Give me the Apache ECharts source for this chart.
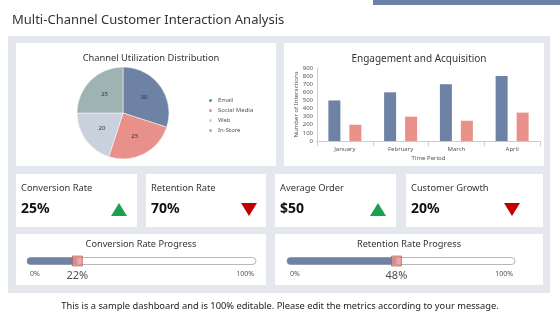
<!DOCTYPE html>
<html>
<head>
<meta charset="utf-8">
<script src="https://cdn.jsdelivr.net/npm/echarts@6/dist/echarts.min.js"></script>
<style>
  html, body { margin: 0; padding: 0; background: #fff; }
  #main { width: 560px; height: 315px; }
</style>
</head>
<body>
<div id="main"></div>
<script>
const channels = ['Email', 'Social Media', 'Web', 'In-Store'];
const channelShare = [30, 25, 20, 25];
const months = ['January', 'February', 'March', 'April'];
const interactions = [500, 600, 700, 800];
const acquisitions = [200, 300, 250, 350];
const kpiLabels = ['Conversion Rate', 'Retention Rate', 'Average Order', 'Customer Growth'];
const kpiValues = ['25%', '70%', '$50', '20%'];
const kpiUp = [true, false, true, false];
const progressLabels = ['Conversion Rate Progress', 'Retention Rate Progress'];
const progressValues = [22, 48];

const FONT = 'Noto Sans';
const BLUE = '#6e82a5';
const SALMON = '#e8918a';
const pieColors = [BLUE, SALMON, '#c9d0de', '#9fb3b3'];

const chart = echarts.init(document.getElementById('main'));

// card boxes
const kpiBoxes = [[16, 137], [146, 266], [275, 396], [406, 543]];
const progBoxes = [[16, 266, 27, 256], [275, 543, 287, 515]];

const graphic = [
  { type: 'rect', shape: { x: 373, y: 0, width: 187, height: 5 }, style: { fill: BLUE } },
  { type: 'text', style: { x: 12, y: 20, text: 'Multi-Channel Customer Interaction Analysis', font: '13px ' + FONT, fill: '#333', verticalAlign: 'middle' } },
  { type: 'rect', z: -10, shape: { x: 8, y: 36, width: 542, height: 257 }, style: { fill: '#e4e8ee' } },
  { type: 'rect', z: -5, shape: { x: 16, y: 43, width: 260, height: 123 }, style: { fill: '#fff' } },
  { type: 'rect', z: -5, shape: { x: 284, y: 43, width: 260, height: 123 }, style: { fill: '#fff' } },
  { type: 'text', style: { x: 280, y: 306, text: 'This is a sample dashboard and is 100% editable. Please edit the metrics according to your message.', font: '9.3px ' + FONT, fill: '#222', align: 'center', verticalAlign: 'middle' } }
];

kpiBoxes.forEach(function (b, i) {
  graphic.push({ type: 'rect', z: -5, shape: { x: b[0], y: 174, width: b[1] - b[0], height: 53 }, style: { fill: '#fff' } });
  graphic.push({ type: 'text', style: { x: b[0] + 5, y: 188, text: kpiLabels[i], font: '9.3px ' + FONT, fill: '#333', verticalAlign: 'middle' } });
  graphic.push({ type: 'text', style: { x: b[0] + 5, y: 209, text: kpiValues[i], font: 'bold 14px ' + FONT, fill: '#111', verticalAlign: 'middle' } });
  const cx = b[0] + (i === 3 ? 106 : 103);
  const pts = kpiUp[i]
    ? [[cx - 8, 216], [cx + 8, 216], [cx, 203]]
    : [[cx - 8, 203], [cx + 8, 203], [cx, 216]];
  graphic.push({ type: 'polygon', shape: { points: pts }, style: { fill: kpiUp[i] ? '#1aa04f' : '#c00000' } });
});

progBoxes.forEach(function (b, i) {
  graphic.push({ type: 'rect', z: -5, shape: { x: b[0], y: 234, width: b[1] - b[0], height: 51 }, style: { fill: '#fff' } });
  graphic.push({ type: 'text', style: { x: (b[0] + b[1]) / 2, y: 244, text: progressLabels[i], font: '9.2px ' + FONT, fill: '#333', align: 'center', verticalAlign: 'middle' } });
  graphic.push({ type: 'text', style: { x: b[2] + 3, y: 274, text: '0%', font: '7px ' + FONT, fill: '#555', verticalAlign: 'middle' } });
  graphic.push({ type: 'text', style: { x: b[3] - 2, y: 274, text: '100%', font: '7px ' + FONT, fill: '#555', align: 'right', verticalAlign: 'middle' } });
});

const grids = [
  { left: 317, top: 68, width: 223, height: 73 }
];
const xAxes = [{
  gridIndex: 0, type: 'category', data: months,
  name: 'Time Period', nameLocation: 'middle', nameGap: 14,
  nameTextStyle: { fontSize: 6, color: '#555', fontFamily: FONT },
  axisLine: { lineStyle: { color: '#ccc' } },
  axisTick: { show: true, lineStyle: { color: '#ccc' } },
  axisLabel: { fontSize: 6, color: '#555', fontFamily: FONT, margin: 5 }
}];
const yAxes = [{
  gridIndex: 0, type: 'value', min: 0, max: 900, interval: 100,
  name: 'Number of Interactions', nameLocation: 'middle', nameGap: 17, nameRotate: 90,
  nameTextStyle: { fontSize: 6, color: '#555', fontFamily: FONT },
  axisLine: { show: true, lineStyle: { color: '#ccc' } },
  splitLine: { show: false },
  axisLabel: { fontSize: 6, color: '#555', fontFamily: FONT, margin: 4 }
}];

const series = [
  {
    type: 'pie', center: [123, 113], radius: 46, startAngle: 90,
    data: channels.map(function (c, i) { return { name: c, value: channelShare[i] }; }),
    color: pieColors,
    label: { position: 'inside', fontSize: 6, color: '#333', fontFamily: FONT, formatter: '{c}' },
    labelLine: { show: false },
    itemStyle: { borderColor: '#fff', borderWidth: 0.5 }
  },
  {
    type: 'bar', xAxisIndex: 0, yAxisIndex: 0, data: interactions, barWidth: 12, barGap: '75%',
    itemStyle: { color: BLUE }
  },
  {
    type: 'bar', xAxisIndex: 0, yAxisIndex: 0, data: acquisitions, barWidth: 12,
    itemStyle: { color: SALMON }
  }
];

progBoxes.forEach(function (b, i) {
  const gi = grids.length;
  grids.push({ left: b[2], top: 257, width: b[3] - b[2], height: 8 });
  xAxes.push({ gridIndex: gi, type: 'value', min: 0, max: 100, show: false });
  yAxes.push({ gridIndex: gi, type: 'category', data: [''], show: false });
  series.push({
    type: 'bar', xAxisIndex: gi, yAxisIndex: gi, data: [progressValues[i]], barWidth: 7,
    itemStyle: { color: BLUE, borderRadius: [3.5, 0, 0, 3.5] },
    showBackground: true,
    backgroundStyle: { color: '#fff', borderColor: '#888', borderWidth: 0.6, borderRadius: 3.5 },
    silent: true
  });
  series.push({
    type: 'scatter', xAxisIndex: gi, yAxisIndex: gi, data: [[progressValues[i], 0]],
    symbol: 'rect', symbolSize: 10, z: 5,
    itemStyle: { color: SALMON, borderColor: '#a55', borderWidth: 0.8 },
    label: { show: true, position: 'bottom', distance: 4, formatter: progressValues[i] + '%', fontSize: 11, color: '#222', fontFamily: FONT }
  });
});

chart.setOption({
  animation: false,
  textStyle: { fontFamily: FONT },
  title: [
    { text: 'Channel Utilization Distribution', left: 146, top: 49, textAlign: 'center', textStyle: { fontSize: 9.3, fontWeight: 'normal', color: '#333', fontFamily: FONT } },
    { text: 'Engagement and Acquisition', left: 414, top: 49, textAlign: 'center', textStyle: { fontSize: 10, fontWeight: 'normal', color: '#333', fontFamily: FONT } }
  ],
  legend: {
    data: channels, orient: 'vertical', left: 202, top: 92,
    icon: 'circle', itemWidth: 5, itemHeight: 5, itemGap: 3,
    textStyle: { fontSize: 6, color: '#555', fontFamily: FONT }
  },
  grid: grids,
  xAxis: xAxes,
  yAxis: yAxes,
  series: series,
  graphic: graphic
});
</script>
</body>
</html>
